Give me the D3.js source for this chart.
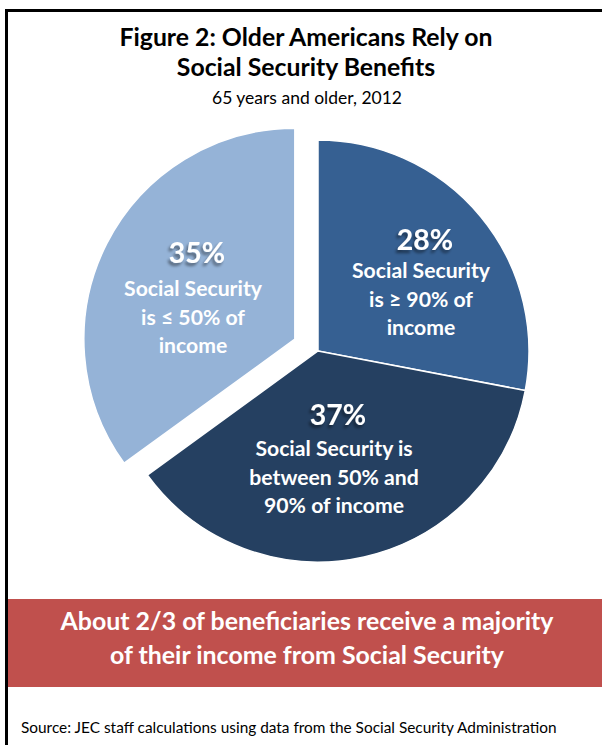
<!DOCTYPE html>
<html><head><meta charset="utf-8">
<script src="https://cdn.jsdelivr.net/npm/d3@7"></script>
<style>html,body{margin:0;padding:0;background:#fff}svg{display:block}</style>
</head><body>
<svg id="c" width="602" height="745"></svg>
<script>
const categories = ["Social Security is ≥ 90% of income", "Social Security is between 50% and 90% of income", "Social Security is ≤ 50% of income"];
const values = [28, 37, 35];
const pctLabels = ["28%", "37%", "35%"];
const labelLines = [
  ["Social Security", "is ≥ 90% of", "income"],
  ["Social Security is", "between 50% and", "90% of income"],
  ["Social Security", "is ≤ 50% of", "income"]
];
const colors = ["#366092", "#254061", "#95B3D7"];
const exploded = [0, 0, 26];
const titleLines = ["Figure 2: Older Americans Rely on", "Social Security Benefits"];
const subtitle = "65 years and older, 2012";
const bannerLines = ["About 2/3 of beneficiaries receive a majority", "of their income from Social Security"];
const source = "Source: JEC staff calculations using data from the Social Security Administration";

const FONT = "Lato, 'Open Sans', sans-serif";
const svg = d3.select("#c");

// frame
svg.append("path").attr("d","M6.5,745 L6.5,10.5 L602,10.5").attr("fill","none").attr("stroke","#000").attr("stroke-width",3);

// title
svg.selectAll("text.title").data(titleLines).join("text").attr("class","title")
  .attr("x",306).attr("y",(d,i)=>46+i*30).attr("text-anchor","middle")
  .attr("font-family",FONT).attr("font-weight","bold").attr("font-size",24.8).attr("fill","#000").text(d=>d);
svg.append("text").attr("x",307).attr("y",104).attr("text-anchor","middle")
  .attr("font-family",FONT).attr("font-size",17.5).attr("fill","#000").text(subtitle);

// pie
const cx = 318, cy = 351, R = 211;
const pie = d3.pie().sort(null).value(d=>d)(values);
const arc = d3.arc().innerRadius(0).outerRadius(R);
const g = svg.append("g").attr("transform",`translate(${cx},${cy})`);
const defs = svg.append("defs");
defs.append("filter").attr("id","sh").attr("x","-20%").attr("y","-20%").attr("width","140%").attr("height","160%")
  .html('<feGaussianBlur in="SourceAlpha" stdDeviation="1.5"/><feOffset dx="-2" dy="3"/><feComponentTransfer><feFuncA type="linear" slope="0.45"/></feComponentTransfer><feMerge><feMergeNode/><feMergeNode in="SourceGraphic"/></feMerge>');

const slices = g.selectAll("g.slice").data(pie).join("g").attr("class","slice")
  .attr("transform",(d,i)=>{const a=(d.startAngle+d.endAngle)/2; return `translate(${Math.sin(a)*exploded[i]},${-Math.cos(a)*exploded[i]})`;});
slices.append("path").attr("d",arc).attr("fill",(d,i)=>colors[i]).attr("stroke","#fff").attr("stroke-width",1.5);

// labels
const labelPos = [[425,240],[338,415],[197,253]];
const lineOffsets = [[31,59.5,88],[34,63,91],[36,65,93]];
slices.each(function(d,i){
  const sel = d3.select(this);
  const a = (d.startAngle+d.endAngle)/2;
  const off = [Math.sin(a)*exploded[i], -Math.cos(a)*exploded[i]];
  const px = labelPos[i][0]-cx-off[0], py = labelPos[i][1]-cy-off[1];
  sel.append("text").attr("x",px).attr("y",py+10).attr("text-anchor","middle")
    .attr("font-family",FONT).attr("font-weight","bold").attr("font-size",28.5).attr("fill","#fff")
    .attr("filter","url(#sh)").text(pctLabels[i]);
  labelLines[i].forEach((t,j)=>{
    sel.append("text").attr("x",px-4).attr("y",py+lineOffsets[i][j]+7).attr("text-anchor","middle")
      .attr("font-family",FONT).attr("font-weight","bold").attr("font-size",21.2).attr("fill","#fff").text(t);
  });
});

// banner
svg.append("rect").attr("x",8).attr("y",599).attr("width",594).attr("height",88).attr("fill","#C0504D");
svg.selectAll("text.banner").data(bannerLines).join("text").attr("class","banner")
  .attr("x",307).attr("y",(d,i)=>630+i*33.5).attr("text-anchor","middle")
  .attr("font-family",FONT).attr("font-weight","bold").attr("font-size",24.9).attr("fill","#fff").text(d=>d);

// source
svg.append("text").attr("x",21).attr("y",733).attr("font-family",FONT).attr("font-size",15.4).attr("fill","#000").text(source);
</script>
</body></html>
